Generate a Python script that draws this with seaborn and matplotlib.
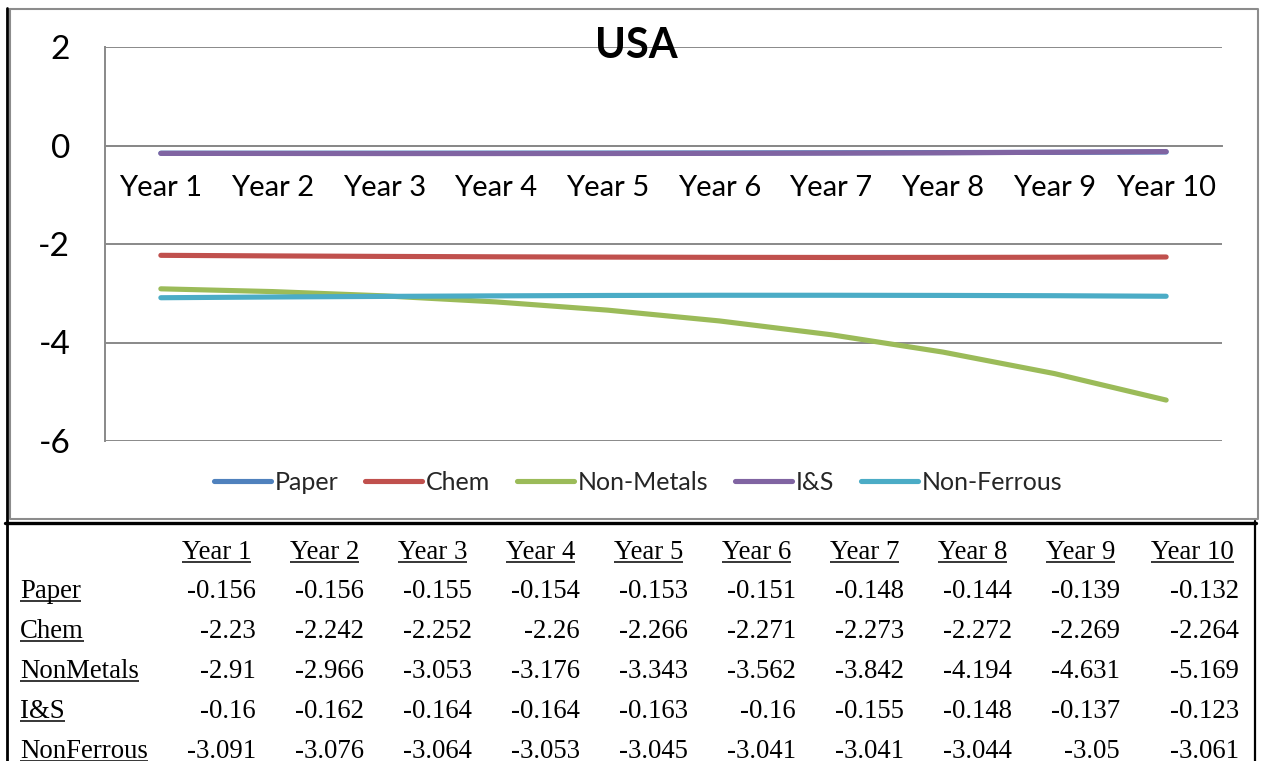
import numpy as np
import pandas as pd
import matplotlib
matplotlib.use("Agg")
import matplotlib.pyplot as plt
from matplotlib.lines import Line2D
import seaborn as sns

# ---- data -------------------------------------------------------------
years = ["Year 1", "Year 2", "Year 3", "Year 4", "Year 5",
         "Year 6", "Year 7", "Year 8", "Year 9", "Year 10"]

legend_names = ["Paper", "Chem", "Non-Metals", "I&S", "Non-Ferrous"]
table_names = ["Paper", "Chem", "NonMetals", "I&S", "NonFerrous"]

paper = [-0.156, -0.156, -0.155, -0.154, -0.153, -0.151, -0.148, -0.144, -0.139, -0.132]
chem = [-2.23, -2.242, -2.252, -2.26, -2.266, -2.271, -2.273, -2.272, -2.269, -2.264]
non_metals = [-2.91, -2.966, -3.053, -3.176, -3.343, -3.562, -3.842, -4.194, -4.631, -5.169]
i_and_s = [-0.16, -0.162, -0.164, -0.164, -0.163, -0.16, -0.155, -0.148, -0.137, -0.123]
non_ferrous = [-3.091, -3.076, -3.064, -3.053, -3.045, -3.041, -3.041, -3.044, -3.05, -3.061]

series = [paper, chem, non_metals, i_and_s, non_ferrous]
colors = ["#4F81BD", "#C0504D", "#9BBB59", "#8064A2", "#4BACC6"]

# ---- style ------------------------------------------------------------
sns.set_theme(style="white")
plt.rcParams["font.family"] = ["Lato", "DejaVu Sans"]

W, H = 1264, 761
fig = plt.figure(figsize=(W / 100, H / 100), dpi=100)
fig.patch.set_facecolor("white")

# overlay in pixel coordinates for frames and the data table
ov = fig.add_axes([0, 0, 1, 1], zorder=0)
ov.set_xlim(0, W)
ov.set_ylim(H, 0)
ov.axis("off")

# chart axes
ax = fig.add_axes([105 / W, 1 - 441 / H, (1222 - 105) / W, (441 - 47) / H], zorder=1)
ax.patch.set_alpha(0)

long = pd.DataFrame({
    "pos": np.tile(np.arange(len(years)), len(series)),
    "value": np.concatenate([np.asarray(s) for s in series]),
    "series": np.repeat(legend_names, len(years)),
})
sns.lineplot(data=long, x="pos", y="value", hue="series", hue_order=legend_names,
             palette=colors, linewidth=3.7, sort=False, legend=False, ax=ax)
for ln in ax.lines:
    ln.set_solid_capstyle("round")

grid_c = "#898989"
ax.set_xlim(-0.5, len(years) - 0.5)
ax.set_ylim(-6, 2)
ax.set_yticks([-6, -4, -2, 0, 2])
ax.set_yticklabels(["-6", "-4", "-2", "0", "2"])
ax.yaxis.grid(True, color=grid_c, lw=1.4)
ax.xaxis.grid(False)
ax.set_xlabel("")
ax.set_ylabel("")

for side in ["top", "right"]:
    ax.spines[side].set_visible(False)
ax.spines["left"].set_color(grid_c)
ax.spines["left"].set_linewidth(1.4)
ax.spines["bottom"].set_position(("data", 0))
ax.spines["bottom"].set_color(grid_c)
ax.spines["bottom"].set_linewidth(1.4)

ax.set_xticks(np.arange(len(years)))
ax.set_xticklabels(years)
ax.set_xticks(np.arange(len(years) + 1) - 0.5, minor=True)
ax.tick_params(axis="x", which="major", length=0, pad=21, labelsize=21, labelcolor="black")
ax.tick_params(axis="x", which="minor", length=7, width=1.4, color=grid_c, direction="out")
ax.tick_params(axis="y", length=8, width=1.4, color=grid_c, direction="out",
               pad=17, labelsize=24, labelcolor="black")

# title
fig.text(636 / W, 1 - 46 / H, "USA", ha="center", va="center",
         fontsize=30, fontweight="bold", color="black", zorder=5)

# legend
handles = [Line2D([0], [0], color=c, lw=3.7, solid_capstyle="round") for c in colors]
fig.legend(handles, legend_names, loc="center", bbox_to_anchor=(638 / W, 1 - 482 / H),
           ncol=5, frameon=False, fontsize=18, handlelength=2.3, handletextpad=0.15,
           columnspacing=1.05)

# frames
ov.plot([10, 1258, 1258, 10, 10], [9, 9, 519, 519, 9], color="#8c8c8c", lw=1.5)
ov.plot([6.5, 6.5], [8, H], color="black", lw=2.0)
ov.plot([5, 1256], [522.5, 522.5], color="black", lw=2.4)
ov.plot([1255, 1255], [521, H], color="black", lw=1.6)

# data table below the chart
serif = ["Liberation Serif", "DejaVu Serif"]
tfs = 19.3
col_right = [256 + 108 * i for i in range(len(years) - 1)] + [1239]
header_base = 559
row_base = [598, 638, 678, 718, 758]

underlined = []
for j, yr in enumerate(years):
    t = ov.text(col_right[j] - 5, header_base, yr, ha="right", va="baseline",
                family=serif, fontsize=tfs, color="black")
    underlined.append((t, header_base))
for i, (name, vals) in enumerate(zip(table_names, series)):
    t = ov.text(20, row_base[i], name, ha="left", va="baseline",
                family=serif, fontsize=tfs, color="black")
    underlined.append((t, row_base[i]))
    for j, v in enumerate(vals):
        ov.text(col_right[j], row_base[i], f"{v:g}", ha="right", va="baseline",
                family=serif, fontsize=tfs, color="black")

fig.canvas.draw()
renderer = fig.canvas.get_renderer()
for t, yb in underlined:
    bb = t.get_window_extent(renderer)
    ov.plot([bb.x0, bb.x1], [yb + 2.5, yb + 2.5], color="black", lw=1.1,
            solid_capstyle="butt")

fig.savefig("out.png", dpi=100)
